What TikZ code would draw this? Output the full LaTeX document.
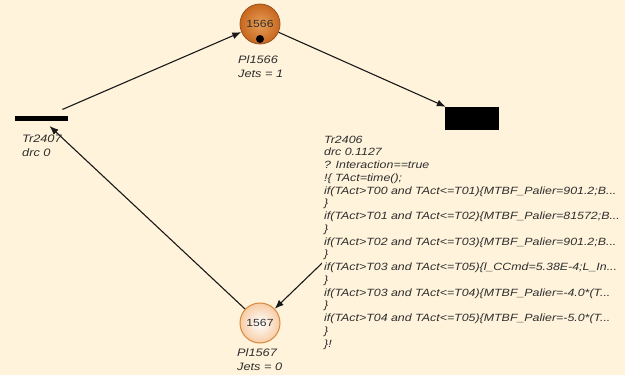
\documentclass[tikz,border=0pt]{standalone}
\usepackage{fontspec}
\usetikzlibrary{arrows.meta}
\newfontfamily\lblfam{Liberation Sans}[FakeStretch=1.18]
\definecolor{bg}{HTML}{FFF3DB}
\definecolor{txt}{HTML}{2E2E2E}
\definecolor{placeA}{HTML}{E79E58}
\definecolor{placeB}{HTML}{C8671E}
\definecolor{placeEdgeA}{HTML}{9A5220}
\definecolor{placeC}{HTML}{F7CDA5}
\definecolor{placeEdgeC}{HTML}{D8893F}
\tikzset{
  edge/.style={draw=black!90, line width=1.1pt, -{Latex[length=9pt,width=7pt]}},
  place/.style={circle, minimum size=40pt, inner sep=0pt, font=\lblfam\fontsize{10.3}{12}\selectfont, text=txt},
  trans/.style={rectangle, fill=black, inner sep=0pt},
  lab/.style={font=\lblfam\itshape\fontsize{10.5}{12.75}\selectfont, text=txt, inner xsep=2pt, inner ysep=6pt, anchor=north west, align=left},
  plab/.style={font=\lblfam\itshape\fontsize{10.8}{14}\selectfont, text=txt, inner sep=0pt, anchor=north west, align=left},
}
\begin{document}
\begin{tikzpicture}[x=1pt,y=-1pt]
\fill[bg] (0,0) rectangle (625,375);
\useasboundingbox (0,0) rectangle (625,375);

% places
\node[place, draw=placeEdgeA, line width=0.8pt, inner color=placeA, outer color=placeB] (p1566) at (260,24) {1566};
\node[circle, fill=black, inner sep=0pt, minimum size=8pt] (tok) at (260,39) {};
\node[place, draw=placeEdgeC, line width=1pt, inner color=white, outer color=placeC] (p1567) at (260,323) {1567};

% transitions
\node[trans, minimum width=53pt, minimum height=5pt] (tr2407) at (41.5,118.5) {};
\node[trans, minimum width=54pt, minimum height=23pt] (tr2406) at (472,118.5) {};

% arcs
\draw[edge, shorten <=16pt] (tr2407) -- (p1566);
\draw[edge] (p1566) -- (tr2406);
\draw[edge] (tr2406) -- (p1567);
\draw[edge, shorten >=7pt] (p1567) -- (tr2407);

% labels
\node[plab] (l1566) at (238,55.5) {Pl1566\\Jets = 1};
\node[plab] (l1567) at (237,348.5) {Pl1567\\Jets = 0};
\node[plab] (l2407) at (22,135) {Tr2407\\drc 0};
\node[lab, fill=bg] (l2406) at (322,129.6) {Tr2406\\
drc 0.1127\\
? Interaction==true\\
!\{ TAct=time();\\
if(TAct>T00 and TAct<=T01)\{MTBF\_Palier=901.2;B...\\
\}\\
if(TAct>T01 and TAct<=T02)\{MTBF\_Palier=81572;B...\\
\}\\
if(TAct>T02 and TAct<=T03)\{MTBF\_Palier=901.2;B...\\
\}\\
if(TAct>T03 and TAct<=T05)\{l\_CCmd=5.38E-4;L\_In...\\
\}\\
if(TAct>T03 and TAct<=T04)\{MTBF\_Palier=-4.0*(T...\\
\}\\
if(TAct>T04 and TAct<=T05)\{MTBF\_Palier=-5.0*(T...\\
\}\\
\}!};
\end{tikzpicture}
\end{document}
